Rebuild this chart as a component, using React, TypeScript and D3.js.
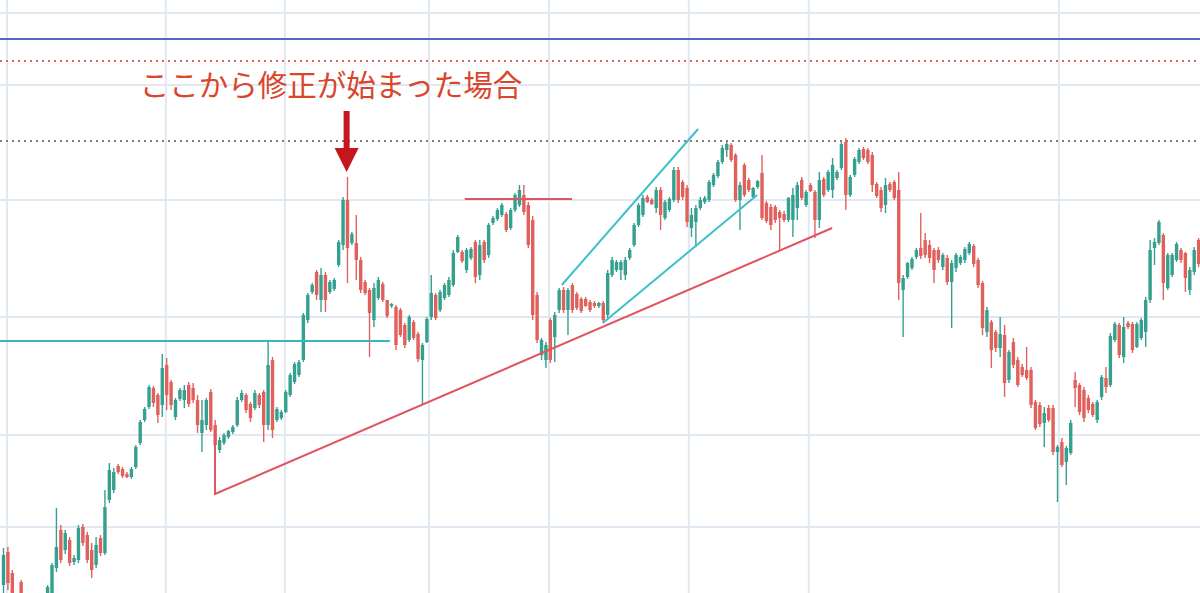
import React from "react";
import * as d3 from "d3";

// candle data: [open, high, low, close] (price units)
const ohlc: [number, number, number, number][] = [
  [15,52,7,45],[48,53,10,17],[27,30,0,5],[0,6,-6,-4],[18,20,-10,-5],
  [-5,0,-20,-12],[-12,-5,-25,-18],[-18,-10,-28,-15],[-15,-8,-25,-20],[-20,-10,-25,-12],
  [-8,15,-12,13],[0,37,-3,35],[32,92,28,53],[70,75,37,40],[50,70,46,67],
  [60,63,34,37],[38,45,35,42],[40,75,37,72],[73,76,54,57],[65,68,37,40],
  [50,57,22,30],[35,63,32,55],[62,65,44,47],[47,110,45,93],[100,137,97,130],
  [110,132,107,128],[134,136,126,128],[131,133,122,124],[126,128,122,123],[123,133,121,131],
  [133,155,131,153],[157,180,155,178],[180,193,178,191],[193,215,191,213],[212,214,193,197],
  [205,207,177,185],[195,246,183,232],[235,242,190,205],[218,220,190,195],[183,202,180,200],
  [201,212,199,210],[200,215,192,210],[215,218,193,196],[212,217,197,200],[200,205,167,175],
  [167,200,148,180],[175,202,170,200],[208,211,168,170],[175,180,148,155],[150,163,147,160],
  [157,167,155,165],[163,170,161,169],[168,175,166,173],[175,203,173,200],[200,210,198,207],
  [205,207,187,190],[196,198,178,182],[192,210,190,207],[205,207,192,195],[208,210,158,175],
  [175,260,170,235],[240,243,162,170],[180,193,178,191],[182,190,180,188],[188,210,187,208],
  [205,227,203,225],[218,238,216,236],[225,240,223,238],[240,287,238,285],[280,307,277,305],
  [308,317,306,315],[328,330,300,305],[300,332,288,325],[325,328,288,300],[308,320,306,318],
  [311,322,309,320],[335,360,333,358],[355,403,350,400],[400,423,317,352],[357,368,355,366],
  [357,385,320,340],[340,343,307,310],[318,320,305,307],[310,312,243,287],[280,317,273,312],
  [302,323,300,320],[316,318,298,300],[300,300,282,284],[294,297,292,296],[293,295,250,255],
  [290,292,263,265],[275,277,252,255],[260,285,258,283],[278,280,260,262],[266,268,238,241],
  [240,257,195,255],[258,283,257,281],[283,325,280,307],[305,307,280,282],[290,310,288,308],
  [302,317,300,315],[305,323,303,320],[315,350,313,347],[348,365,347,363],[348,350,337,339],
  [330,352,327,350],[342,353,340,351],[358,360,317,323],[325,360,320,355],[358,360,337,340],
  [345,377,342,375],[377,384,375,382],[381,392,379,390],[385,397,383,395],[386,388,368,370],
  [372,392,370,390],[390,407,388,405],[395,415,393,410],[405,415,385,388],[395,398,352,355],
  [380,384,280,285],[305,308,257,260],[245,262,240,260],[240,258,232,255],[280,282,237,240],
  [263,288,238,285],[290,312,287,310],[310,313,287,290],[290,312,265,310],[315,317,287,290],
  [306,308,290,292],[301,303,287,289],[301,303,293,294],[298,300,288,290],[297,299,292,294],
  [294,298,292,297],[297,299,277,280],[285,330,282,327],[325,343,323,340],[330,340,328,338],
  [330,340,320,338],[325,343,320,340],[342,352,340,350],[355,377,353,375],[375,397,373,395],
  [385,405,383,402],[403,405,397,398],[400,402,395,396],[392,413,387,410],[410,413,370,385],
  [382,400,380,398],[390,403,388,401],[400,433,398,430],[430,433,397,400],[418,420,400,403],
  [412,415,373,378],[372,392,363,385],[378,395,353,392],[392,403,390,400],[398,404,396,402],
  [400,420,398,418],[415,427,413,425],[424,440,422,438],[438,455,436,452],[450,458,443,456],
  [455,457,438,440],[445,447,398,400],[400,418,370,415],[435,437,403,405],[420,422,408,410],
  [403,413,401,412],[413,420,411,419],[427,445,380,382],[397,399,377,379],[393,396,370,375],
  [393,395,377,380],[388,390,350,382],[386,389,378,380],[380,403,378,402],[380,412,363,405],
  [392,418,380,415],[420,423,400,402],[395,410,393,408],[415,417,408,409],[408,410,362,380],
  [380,428,372,420],[421,423,403,405],[410,430,408,428],[410,442,402,435],[422,430,420,428],
  [432,458,430,456],[458,462,390,405],[405,425,403,423],[425,443,423,441],[438,452,436,450],
  [451,453,440,442],[450,452,436,438],[445,448,408,415],[416,418,402,404],[410,413,388,392],
  [395,422,387,415],[416,418,408,410],[418,420,400,402],[410,428,300,317],[310,325,263,322],
  [323,338,321,337],[332,343,330,341],[343,352,341,350],[352,387,341,344],[360,367,342,345],
  [355,360,337,342],[350,352,317,330],[350,353,337,340],[333,347,330,345],[342,345,315,318],
  [318,340,272,337],[332,347,328,345],[337,345,335,343],[340,353,337,351],[347,358,345,356],
  [354,356,333,336],[340,342,312,315],[317,319,265,272],[268,293,263,290],[278,280,232,250],
  [268,270,248,252],[252,283,243,266],[265,275,203,217],[220,250,217,248],[258,262,232,235],
  [240,243,213,215],[233,236,223,225],[230,253,220,222],[230,233,192,195],[198,200,170,172],
  [195,198,173,176],[177,193,153,187],[192,195,178,180],[192,195,145,148],[148,155,98,153],
  [158,162,133,135],[138,154,115,152],[147,180,145,177],[220,228,193,212],[215,217,185,188],
  [210,213,178,182],[202,205,187,190],[196,198,183,185],[180,200,177,198],[203,225,200,223],
  [222,233,207,213],[215,267,213,264],[260,278,258,276],[275,277,242,245],[243,283,237,273],
  [277,279,271,273],[276,278,247,250],[253,278,252,276],[262,282,260,280],[268,303,253,300],
  [300,360,297,350],[352,362,335,358],[357,380,355,378],[365,367,300,317],[312,347,310,345],
  [325,347,323,345],[340,358,338,356],[350,352,337,340],[347,348,308,322],[310,333,305,330],
  [328,353,325,350],[360,362,333,336],[340,360,338,358],
];

// grid positions (candle index / price)
const gridIndex = [0.8, 36.8, 63.8, 96.5, 123.7, 155.4, 182.6, 239.3];
const gridPrice = [587, 515, 400, 283, 165, 73];

// horizontal levels
const blueLevel = 561;
const redDottedLevel = 539;
const grayDottedLevel = 459;
const cyanLevel = { from: -1, to: 87.6, price: 259 };
const redTopLevel = { from: 104.6, to: 128.9, price: 401 };

// drawn lines: [index, price] points
const redTrend: [number, number][] = [[47.96, 170], [47.96, 106], [187.9, 372]];
const channelUpper: [number, number][] = [[126.6, 315], [157.5, 471]];
const channelLower: [number, number][] = [[135.9, 277], [170.9, 405]];

const arrowIndex = 77.8;
const labelText = "ここから修正が始まった場合";

const W = 1200;
const H = 593;
const UP = "#35a08f";
const DOWN = "#e0605c";

export default function App() {
  const x = d3.scaleLinear().domain([0, ohlc.length - 1]).range([3.5, 3.5 + 4.41 * (ohlc.length - 1)]);
  const y = d3.scaleLinear().domain([0, 600]).range([600, 0]);
  const line = d3.line<[number, number]>().x((d) => x(d[0])).y((d) => y(d[1]));
  const bw = 3.4;
  const ax = x(arrowIndex);

  return (
    <svg width={W} height={H} style={{ position: "absolute", left: 0, top: 0, background: "#fff" }}>
      <rect width={W} height={H} fill="#fff" />
      <g stroke="#e2e8f1" strokeWidth={2}>
        {gridIndex.map((g, i) => (
          <line key={"v" + i} x1={x(g)} x2={x(g)} y1={0} y2={H} />
        ))}
        {gridPrice.map((g, i) => (
          <line key={"h" + i} x1={0} x2={W} y1={y(g)} y2={y(g)} />
        ))}
      </g>
      <line x1={0} x2={W} y1={y(blueLevel)} y2={y(blueLevel)} stroke="#4a6cc8" strokeWidth={2} />
      <line x1={0} x2={W} y1={y(redDottedLevel)} y2={y(redDottedLevel)} stroke="#e06464" strokeWidth={2} strokeDasharray="2 4" />
      <line x1={0} x2={W} y1={y(grayDottedLevel)} y2={y(grayDottedLevel)} stroke="#8a7878" strokeWidth={2} strokeDasharray="2 4" />

      <g>
        {ohlc.map((d, i) => {
          const [o, h, l, c] = d;
          const col = c >= o ? UP : DOWN;
          const cx = x(i);
          const top = y(Math.max(o, c));
          const bot = y(Math.min(o, c));
          return (
            <g key={i}>
              <line x1={cx} x2={cx} y1={y(h)} y2={y(l)} stroke={col} strokeWidth={1.4} />
              <rect x={cx - bw / 2} y={top} width={bw} height={Math.max(1.5, bot - top)} fill={col} />
            </g>
          );
        })}
      </g>

      <line x1={x(cyanLevel.from)} x2={x(cyanLevel.to)} y1={y(cyanLevel.price)} y2={y(cyanLevel.price)} stroke="#3ab4bf" strokeWidth={2} />
      <line x1={x(redTopLevel.from)} x2={x(redTopLevel.to)} y1={y(redTopLevel.price)} y2={y(redTopLevel.price)} stroke="#e05560" strokeWidth={2} />
      <path d={line(redTrend) || ""} fill="none" stroke="#e05560" strokeWidth={2} />
      <path d={line(channelUpper) || ""} fill="none" stroke="#3ec0ca" strokeWidth={2} />
      <path d={line(channelLower) || ""} fill="none" stroke="#3ec0ca" strokeWidth={2} />

      <rect x={ax - 3} y={111} width={6} height={40} fill="#c4161c" />
      <path d={`M${ax - 12},148 L${ax + 12},148 L${ax},172 Z`} fill="#c4161c" />
      <text x={331} y={96} textAnchor="middle" fontSize={29.5} fill="#d9462c" fontFamily="'Noto Sans CJK JP', sans-serif">
        {labelText}
      </text>
    </svg>
  );
}
